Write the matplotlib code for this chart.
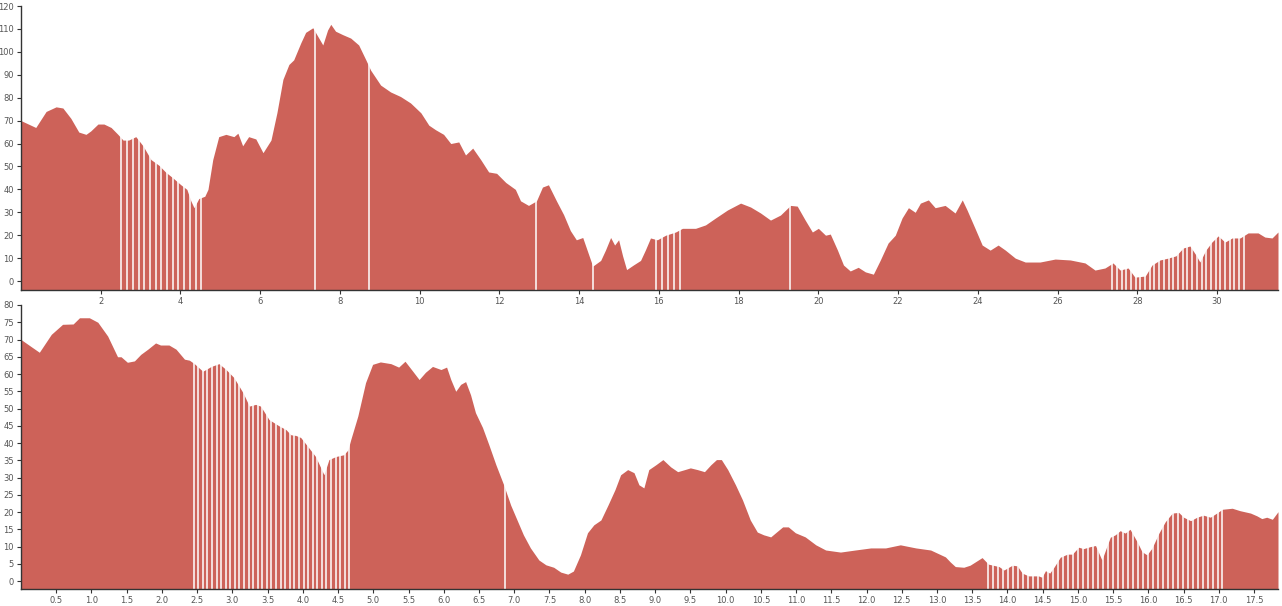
import numpy as np
import matplotlib.pyplot as plt

# Profile 1 (top) - distance / value
top_x = [0.0, 0.37, 0.63, 0.88, 1.05, 1.25, 1.45, 1.63, 1.75, 1.93, 2.08, 2.26, 2.43, 2.56,
         2.7, 2.88, 3.06, 3.26, 3.46, 3.63, 3.81, 4.01, 4.16, 4.26, 4.34, 4.46, 4.61, 4.69,
         4.81, 4.96, 5.14, 5.34, 5.44, 5.56, 5.71, 5.89, 6.07, 6.27, 6.42, 6.57, 6.72, 6.84,
         7.02, 7.14, 7.32, 7.47, 7.57, 7.69, 7.77, 7.89, 8.07, 8.27, 8.47, 8.65, 8.77, 9.02,
         9.27, 9.52, 9.77, 10.03, 10.23, 10.4, 10.6, 10.78, 10.98, 11.15, 11.33, 11.53, 11.73,
         11.93, 12.16, 12.4, 12.53, 12.73, 12.93, 13.08, 13.23, 13.43, 13.61, 13.78, 13.93,
         14.09, 14.2, 14.34, 14.54, 14.66, 14.79, 14.89, 14.99, 15.09, 15.19, 15.36, 15.54,
         15.66, 15.79, 15.96, 16.17, 16.42, 16.59, 16.92, 17.17, 17.42, 17.72, 18.05, 18.3,
         18.55, 18.8, 19.05, 19.3, 19.47, 19.67, 19.85, 20.0, 20.18, 20.3, 20.48, 20.63, 20.8,
         21.0, 21.18, 21.38, 21.55, 21.75, 21.93, 22.1, 22.26, 22.43, 22.56, 22.76, 22.93,
         23.18, 23.43, 23.61, 23.73, 23.93, 24.11, 24.31, 24.51, 24.69, 24.94, 25.19, 25.56,
         25.94, 26.32, 26.69, 26.94, 27.19, 27.39, 27.57, 27.77, 27.94, 28.2, 28.37, 28.57,
         28.77, 28.97, 29.15, 29.32, 29.47, 29.57, 29.72, 29.87, 30.03, 30.2, 30.38, 30.58,
         30.78, 31.03, 31.2, 31.38, 31.53]
top_y = [70, 67, 74, 76, 75.5, 71, 65, 64, 65.5, 68.5, 68.5, 67, 64, 61.5,
         61.5, 63, 59, 53, 50.5, 47.5, 45, 42, 40, 35, 32, 36, 37, 40,
         53, 63, 64, 63, 64.5, 59, 63, 62, 56, 61.5, 73.5, 88, 94.5, 96.5,
         104, 108.5, 110.5, 106, 103, 109.5, 112, 109, 107.5, 106, 103, 96.5, 92, 85.5,
         82.5, 80.5, 77.7, 73.4, 68, 66, 64, 60, 60.7, 55, 58, 53, 47.6,
         47, 43, 40, 35, 33, 35, 41, 42, 35, 29, 22, 18,
         19, 13.5, 6.5, 9, 13.5, 19, 15.7, 18, 11, 5, 7, 9,
         13.5, 18.8, 18, 20, 21.4, 23, 23, 24.5, 27.5, 31, 34, 32.3,
         29.7, 26.6, 28.8, 33, 32.7, 26.6, 21.4, 23, 20, 20.5, 13.5, 7, 4.4,
         6, 4, 3, 9, 16.6, 20, 27.5, 32, 30, 34, 35.4, 32,
         33, 29.7, 35.4, 31, 23, 15.7, 13.5, 15.7, 13.5, 10, 8.3, 8.3,
         9.6, 9.2, 7.9, 4.8, 5.7, 7.9, 4.8, 5.7, 1.7, 2.2, 7, 9.2,
         10, 11, 14.4, 15.3, 11.4, 8.3, 13.5, 17, 19.7, 17, 18.8, 18.8,
         21, 21, 19.2, 18.8, 21.4]

# Profile 2 (bottom)
bot_x = [0.0, 0.14, 0.26, 0.43, 0.59, 0.74, 0.83, 0.97, 1.09, 1.23, 1.37, 1.42, 1.51, 1.61,
         1.7, 1.8, 1.91, 1.98, 2.1, 2.2, 2.32, 2.39, 2.46, 2.58, 2.7, 2.81, 2.91, 3.02,
         3.15, 3.24, 3.33, 3.4, 3.52, 3.66, 3.76, 3.83, 3.9, 3.97, 4.07, 4.18, 4.3, 4.37,
         4.47, 4.58, 4.64, 4.68, 4.78, 4.89, 4.99, 5.1, 5.25, 5.36, 5.45, 5.56, 5.65, 5.74,
         5.84, 5.96, 6.04, 6.1, 6.17, 6.24, 6.31, 6.38, 6.45, 6.55, 6.64, 6.74, 6.85, 6.95,
         7.04, 7.13, 7.23, 7.35, 7.45, 7.56, 7.66, 7.76, 7.84, 7.94, 8.04, 8.13, 8.23, 8.33,
         8.43, 8.51, 8.61, 8.7, 8.77, 8.84, 8.91, 9.01, 9.11, 9.22, 9.32, 9.42, 9.5, 9.6,
         9.7, 9.79, 9.87, 9.94, 10.03, 10.14, 10.24, 10.35, 10.45, 10.54, 10.64, 10.71,
         10.81, 10.89, 10.99, 11.13, 11.28, 11.42, 11.63, 11.84, 12.06, 12.27, 12.48, 12.7,
         12.91, 13.12, 13.19, 13.26, 13.38, 13.47, 13.64, 13.73, 13.88, 13.95, 14.07, 14.14,
         14.21, 14.3, 14.44, 14.49, 14.54, 14.6, 14.66, 14.75, 14.85, 14.92, 15.01, 15.08,
         15.18, 15.25, 15.34, 15.41, 15.46, 15.53, 15.6, 15.67, 15.74, 15.84, 15.91, 15.98,
         16.05, 16.15, 16.24, 16.34, 16.43, 16.5, 16.6, 16.69, 16.78, 16.88, 16.97, 17.05,
         17.19, 17.3, 17.45, 17.54, 17.61, 17.68, 17.76, 17.84]
bot_y = [70, 68, 66.3, 71.5, 74.4, 74.5, 76.3, 76.3, 75, 71, 65, 65, 63.4, 63.8,
         65.7, 67.2, 69, 68.4, 68.4, 67.2, 64.3, 64, 63, 60.8, 62.2, 63, 61.3, 59,
         54.6, 50.7, 51.2, 50.7, 46.8, 45, 43.9, 42.4, 42.2, 41.6, 39, 36.1, 30.8, 35.2,
         36.1, 36.6, 38, 41, 47.8, 57.5, 62.8, 63.5, 63, 62, 63.7, 60.8, 58.4, 60.5,
         62.2, 61.3, 62, 58.4, 55, 57, 57.8, 54, 48.8, 44.5, 39.5, 33.7, 27.9, 22,
         17.7, 13.4, 9.6, 6.1, 4.7, 4, 2.6, 2, 2.9, 7.6, 14, 16.3, 17.7, 22,
         26.5, 30.8, 32.3, 31.4, 27.9, 27, 32.3, 33.7, 35.2, 33.1, 31.7, 32.3, 32.8, 32.3,
         31.7, 33.7, 35.2, 35.2, 32.3, 27.9, 23.5, 17.7, 14.2, 13.4, 12.8, 14,
         15.7, 15.7, 14, 12.8, 10.5, 9, 8.4, 9, 9.6, 9.6, 10.5, 9.6,
         9, 7, 5.5, 4.2, 4, 4.6, 6.8, 4.9, 4.2, 3.2, 4.6, 4.4,
         2.3, 1.5, 1.5, 1.1, 3, 2.3, 4, 6.9, 7.8, 7.8, 9.8, 9.4,
         10, 10.3, 6.1, 10, 12.7, 13.4, 14.6, 13.9, 15, 11.4, 8.5, 7.6,
         9.5, 13.9, 17.2, 19.7, 19.9, 18.5, 17.5, 18.5, 19.1, 18.5, 19.7, 20.8,
         21.1, 20.4, 19.7, 18.9, 18.1, 18.5, 17.9, 20.1]

# white gaps: (start, end, spacing) runs and single gaps
top_runs = [(2.52, 4.66, 0.143), (15.93, 16.6, 0.15), (27.37, 30.72, 0.118)]
top_single = [7.37, 8.72, 12.93, 14.36, 19.3]
bot_runs = [(2.45, 4.7, 0.065), (13.72, 17.05, 0.071)]
bot_single = [6.87, 17.05]

RED = '#cd6259'


def draw_profile(ax, x, y, runs, singles, ymin, ymax, yticks, xticks, xlabels):
    xmax = x[-1]
    ax.fill_between(x, y, ymin, color=RED, linewidth=0)
    gaps = list(singles)
    for a, b, step in runs:
        gaps += list(np.arange(a, b + 1e-6, step))
    ax.vlines(gaps, ymin, ymax, colors='white', linewidth=1.2, alpha=0.92)
    ax.set_xlim(0, xmax)
    ax.set_ylim(ymin, ymax)
    ax.set_yticks(yticks)
    ax.set_xticks(xticks)
    ax.set_xticklabels(xlabels)
    for s in ['top', 'right']:
        ax.spines[s].set_visible(False)
    for s in ['left', 'bottom']:
        ax.spines[s].set_color('#333333')
        ax.spines[s].set_linewidth(1.0)
        ax.spines[s].set_zorder(5)
    ax.tick_params(labelsize=6, colors='#333333', labelcolor='#555555',
                   length=3, width=0.8, pad=2)


fig = plt.figure(figsize=(12.82, 6.06), dpi=100)
ax1 = fig.add_axes([21 / 1282, 1 - 290 / 606, 1257 / 1282, 284 / 606])
ax2 = fig.add_axes([21 / 1282, 1 - 589 / 606, 1257 / 1282, 284 / 606])

top_xt = np.arange(2, 31, 2)
draw_profile(ax1, top_x, top_y, top_runs, top_single, -3.9, 120,
             np.arange(0, 121, 10), top_xt, [str(v) for v in top_xt])

bot_xt = np.arange(0.5, 17.6, 0.5)
draw_profile(ax2, bot_x, bot_y, bot_runs, bot_single, -2.3, 80,
             np.arange(0, 81, 5), bot_xt, ['%.1f' % v for v in bot_xt])

fig.savefig('out.png', dpi=100)
